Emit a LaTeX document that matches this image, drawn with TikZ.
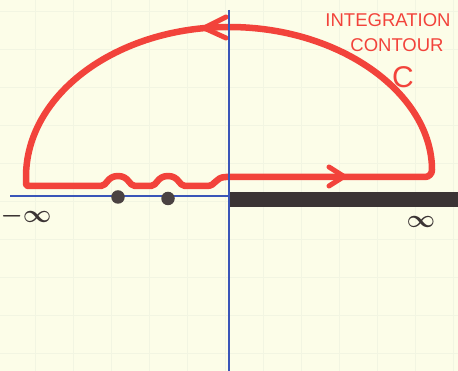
\documentclass[tikz,border=0pt]{standalone}
\usepackage{fontspec}
\newfontfamily\handfont{Liberation Sans}
\usetikzlibrary{arrows.meta}
\definecolor{SKPaper}{HTML}{FCFDE8}
\definecolor{SKGrid}{HTML}{F2F5E2}
\definecolor{SKRed}{HTML}{F2433B}
\definecolor{SKBlue}{HTML}{3A55B8}
\definecolor{SKInk}{HTML}{3B3434}
\definecolor{SKPole}{HTML}{4A4242}
\tikzset{
  gridline/.style={SKGrid,line width=0.8pt},
  axis/.style={SKBlue,line width=1.2pt},
  cut/.style={SKInk,line width=15pt},
  contour/.style={SKRed,line width=6.5pt,line cap=round,line join=round},
  arrowhead/.style={contour,line width=5pt},
  pole/.style={circle,fill=SKPole,inner sep=0pt,minimum size=13.5pt},
  handlabel/.style={text=SKRed,font=\handfont\fontsize{18.5}{20}\selectfont,inner sep=0pt},
  biglabel/.style={text=SKRed,font=\handfont\fontsize{30}{32}\selectfont,inner sep=0pt},
  inflabel/.style={text=SKInk,font=\boldmath\fontsize{23}{24}\selectfont,inner sep=0pt},
}
\begin{document}
\begin{tikzpicture}[x=1pt,y=1pt]
    \useasboundingbox (0,0) rectangle (458,371);
    \fill[SKPaper] (0,0) rectangle (458,371);
    % faint squared paper
    \foreach \gx in {35,73,...,455} \draw[gridline] (\gx,0) -- (\gx,371);
    \foreach \gy in {18,56,...,371} \draw[gridline] (0,\gy) -- (458,\gy);

    % branch cut along the positive real axis
    \draw[cut] (229,171) -- (458,171);

    % the contour: indented past the poles, closed by the big arc
    \draw[contour]
      (26,194) -- (26,190) .. controls (26,185) .. (31,185) -- (101,185)
      .. controls (107,185) and (107,195) .. (118,195)
      .. controls (129,195) and (129,185) .. (135,185) -- (151,185)
      .. controls (157,185) and (157,195) .. (168,195)
      .. controls (179,195) and (179,185) .. (185,185) -- (207,185)
      .. controls (216,185) and (215,194) .. (226,194)
      [rounded corners=7pt] -- (432,194)
      arc[start angle=0,end angle=180,x radius=203,y radius=150];
    \draw[arrowhead] (226,354) -- (204,343) -- (226,333);
    \draw[arrowhead] (329,204) -- (344,194.5) -- (329,185);

    \draw[axis] (10,175) -- (229,175);
    \draw[axis] (229,361) -- (229,0);
    \node[pole] (poleA) at (118,174) {};
    \node[pole] (poleB) at (168,172.5) {};

    \node[handlabel] (title) at (388,351) {INTEGRATION};
    \node[handlabel] (subtitle) at (397,326) {CONTOUR};
    \node[biglabel] (cname) at (403,294) {C};
    \node[inflabel] (minf) at (26,155) {$-\infty$};
    \node[inflabel] (pinf) at (421,149) {$\infty$};
\end{tikzpicture}
\end{document}
